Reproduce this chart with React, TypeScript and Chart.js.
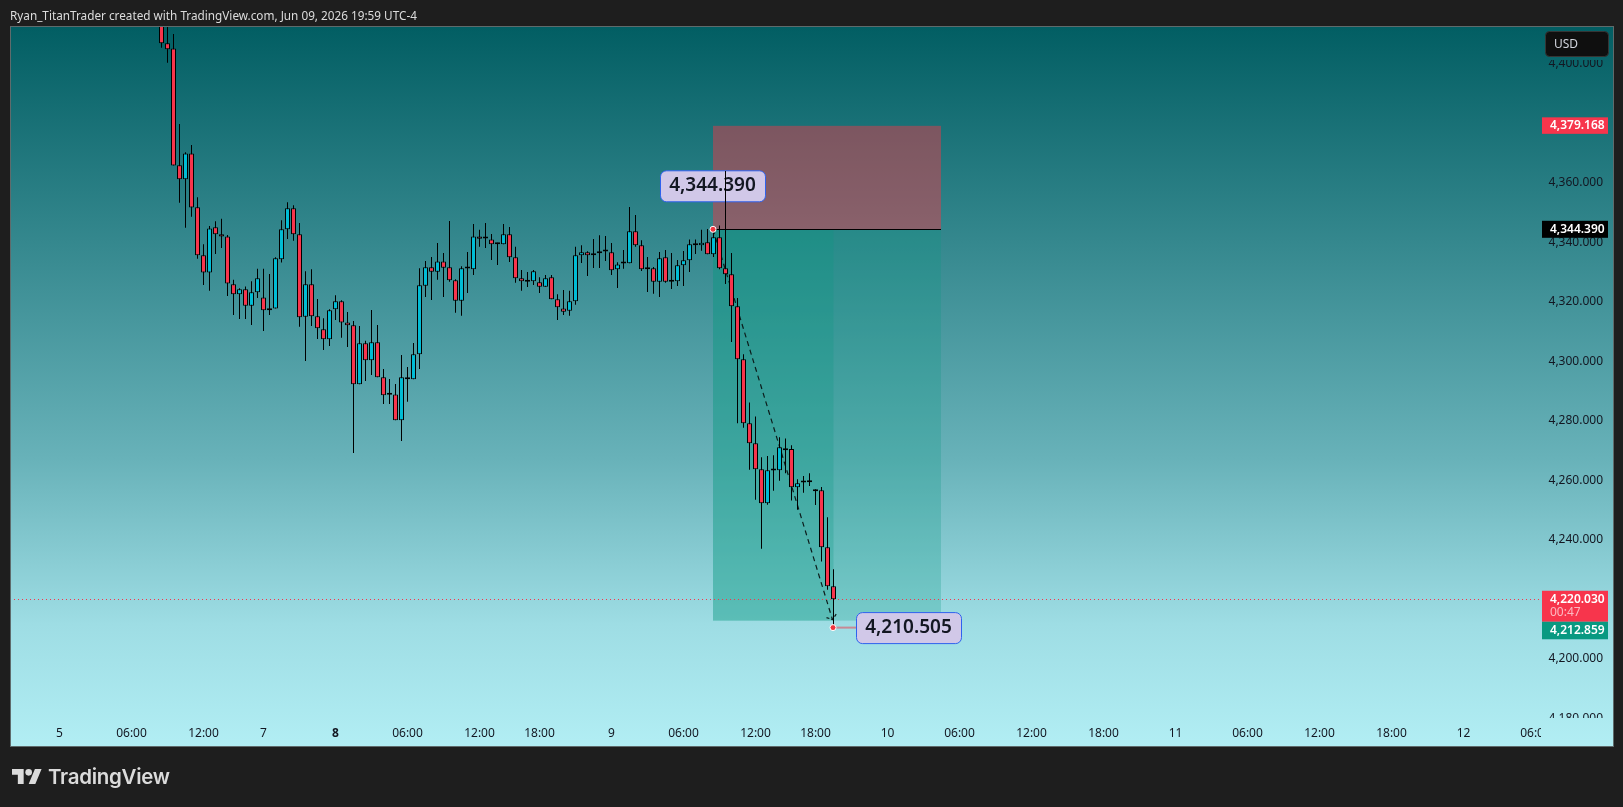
import React, { useEffect, useRef } from "react";
import { Chart, registerables } from "chart.js";

Chart.register(...registerables);

const opens = [4420,4406.9,4405.2,4365.9,4361.2,4369.9,4351.8,4335.7,4329.9,4345.1,4342.7,4342.0,4325.9,4322.6,4324.2,4318.7,4323.2,4321.5,4317.2,4317.8,4334.3,4344.4,4351.5,4342.7,4315.0,4325.9,4315.2,4310.8,4307.4,4317.5,4320.2,4313.1,4312.1,4292.3,4306.1,4300.4,4306.4,4294.7,4288.9,4288.9,4280.2,4294.7,4294.0,4302.4,4325.4,4331.6,4330.1,4333.6,4331.6,4327.3,4320.4,4331.3,4331.0,4342.0,4341.4,4341.0,4339.5,4339.4,4342.7,4335.0,4327.9,4326.9,4326.9,4326.6,4325.1,4328.3,4320.9,4317.8,4317.0,4320.2,4335.7,4336.7,4335.7,4336.3,4337.0,4336.7,4331.0,4333.0,4333.0,4343.7,4339.0,4331.1,4331.3,4326.8,4335.0,4326.9,4326.9,4332.3,4334.0,4339.1,4339.0,4340.0,4336.0,4341.7,4331.3,4329.3,4318.5,4300.7,4279.2,4272.5,4263.7,4252.3,4263.4,4263.4,4270.8,4270.5,4257.7,4259.4,4259.4,4256.4,4256.7,4237.5,4224.4];
const highs = [4425,4416,4410.0,4379.8,4370.3,4372.7,4355.2,4339.4,4345.5,4347.1,4347.9,4342.5,4327.4,4324.6,4325.2,4326.9,4331.1,4331.1,4329.4,4335.0,4347.4,4353.5,4352.5,4346.5,4330.3,4331.0,4321.0,4314.5,4317.5,4322.2,4320.5,4316.6,4313.6,4311.9,4306.9,4317.3,4312.2,4297.4,4294.1,4292.4,4302.1,4298.1,4306.2,4331.3,4333.7,4335.1,4339.8,4336.4,4347.2,4327.6,4332.0,4336.8,4346.2,4344.2,4346.5,4342.8,4339.9,4346.2,4345.2,4338.5,4330.7,4330.0,4330.7,4328.3,4329.0,4329.0,4322.6,4324.0,4323.7,4338.5,4339.0,4337.0,4341.1,4342.4,4342.1,4339.8,4333.3,4337.4,4351.9,4349.2,4340.7,4335.1,4331.7,4336.8,4337.4,4336.4,4334.1,4337.1,4341.0,4341.0,4344.2,4344.5,4344.5,4345.7,4364.0,4336.4,4321.3,4302.4,4286.2,4281.5,4267.8,4268.2,4268.4,4274.5,4274.1,4271.8,4260.4,4261.5,4262.4,4257.0,4257.8,4247.6,4230.1];
const lows = [4405.4,4400.4,4365.8,4353.3,4344.9,4348.6,4334.5,4325.7,4323.7,4336.1,4338.1,4322.0,4315.6,4314.2,4314.2,4312.2,4321.3,4310.2,4315.6,4317.8,4333.2,4341.1,4340.5,4311.6,4300.1,4311.9,4307.5,4303.8,4305.2,4313.9,4307.9,4304.8,4269.2,4292.3,4293.4,4295.4,4294.7,4285.7,4285.7,4280.2,4273.2,4286.4,4294.0,4297.4,4321.6,4320.6,4327.4,4321.6,4326.8,4316.3,4315.3,4323.0,4329.0,4338.5,4338.1,4334.1,4332.4,4339.4,4333.4,4326.4,4323.7,4325.0,4325.7,4323.0,4325.1,4320.9,4313.9,4315.6,4315.3,4319.0,4333.1,4328.7,4331.4,4331.4,4333.7,4329.0,4324.7,4331.1,4333.0,4338.5,4330.4,4323.3,4322.7,4321.6,4326.4,4324.3,4325.3,4325.3,4330.0,4336.1,4337.2,4336.0,4335.1,4331.0,4326.0,4306.5,4279.2,4277.7,4263.6,4253.5,4237.0,4251.8,4256.5,4259.9,4262.4,4253.2,4250.1,4255.8,4258.1,4251.7,4232.7,4223.2,4210.505];
const closes = [4406.9,4404.9,4365.8,4361.2,4369.9,4351.7,4335.7,4329.9,4344.7,4342.7,4342.0,4326.2,4322.6,4324.2,4318.7,4323.2,4327.9,4317.2,4317.8,4334.7,4344.4,4351.5,4342.7,4314.8,4325.9,4315.2,4311.1,4307.4,4317.2,4320.2,4313.1,4312.1,4292.3,4306.1,4300.4,4306.4,4294.7,4288.6,4288.8,4280.2,4294.7,4294.0,4302.4,4325.6,4331.6,4330.1,4333.6,4331.5,4327.3,4320.4,4331.3,4331.2,4342.0,4341.2,4341.3,4339.4,4339.4,4342.7,4335.0,4327.9,4326.9,4326.8,4330.3,4325.1,4327.9,4320.9,4318.2,4316.7,4320.2,4335.7,4336.7,4335.7,4336.3,4337.0,4336.9,4330.6,4332.6,4332.9,4343.7,4339.0,4331.0,4331.0,4326.8,4334.7,4326.8,4326.8,4332.3,4334.0,4339.4,4339.0,4339.9,4336.0,4341.7,4331.3,4329.3,4318.5,4300.7,4279.2,4272.5,4263.7,4252.3,4263.4,4263.3,4271.1,4270.1,4257.7,4259.0,4259.3,4260.0,4256.3,4237.5,4224.4,4220.03];

const xTickIndex = [-17,-5,7,17,29,41,53,63,75,87,99,109,121,133,145,157,169,181,193,205,217,229];
const xTickLabels = ["5","06:00","12:00","7","8","06:00","12:00","18:00","9","06:00","12:00","18:00","10","06:00","12:00","18:00","11","06:00","12:00","18:00","12","06:00"];
const yTickValues = [4180,4200,4220,4240,4260,4280,4300,4320,4340,4360,4380,4400];

const entryIndex = 92;
const endIndex = 112;
const rightIndex = 130;
const entryPrice = 4344.39;
const stopPrice = 4379.168;
const targetPrice = 4212.859;
const lastPrice = 4220.03;
const lowPrice = 4210.505;

const PANEL = { l: 10, t: 27, r: 1613, b: 747 };
const SCALE_LEFT = 1541;
const RED = "#f7354c";
const CYAN = "#00bcd4";
const FONT = '"Noto Sans"';
const fmt = (v: number) =>
  v.toLocaleString("en-US", { minimumFractionDigits: 3, maximumFractionDigits: 3 });

function panelGradient(ctx: CanvasRenderingContext2D) {
  const g = ctx.createLinearGradient(0, PANEL.t, 0, PANEL.b);
  g.addColorStop(0, "#025e63");
  g.addColorStop(0.6, "#68b2b9");
  g.addColorStop(0.83, "#9eddE4");
  g.addColorStop(1, "#b2eef4");
  return g;
}

function roundBox(ctx: CanvasRenderingContext2D, x: number, y: number, w: number, h: number, r: number, fill: string, stroke?: string) {
  ctx.beginPath();
  ctx.roundRect(x, y, w, h, r);
  ctx.fillStyle = fill;
  ctx.fill();
  if (stroke) {
    ctx.strokeStyle = stroke;
    ctx.lineWidth = 1;
    ctx.stroke();
  }
}

function priceTag(ctx: CanvasRenderingContext2D, top: number, bottom: number, fill: string, text: string, cy: number) {
  ctx.fillStyle = fill;
  ctx.fillRect(1542, top, 66, bottom - top);
  ctx.fillStyle = "#ffffff";
  ctx.font = `600 12px ${FONT}`;
  ctx.textAlign = "left";
  ctx.textBaseline = "middle";
  ctx.fillText(text, 1550, cy);
}

function callout(ctx: CanvasRenderingContext2D, x: number, y: number, w: number, h: number, text: string) {
  roundBox(ctx, x + 0.5, y + 0.5, w, h, 6, "#d1c8e8", "#2f62ee");
  ctx.fillStyle = "#131722";
  ctx.font = `600 19px ${FONT}`;
  ctx.textAlign = "center";
  ctx.textBaseline = "middle";
  ctx.fillText(text, x + w / 2, y + h / 2);
}

function marker(ctx: CanvasRenderingContext2D, x: number, y: number) {
  ctx.beginPath();
  ctx.arc(x, y, 3, 0, Math.PI * 2);
  ctx.fillStyle = "#f0363f";
  ctx.fill();
  ctx.strokeStyle = "#ffffff";
  ctx.lineWidth = 1;
  ctx.stroke();
}

const tvPlugin = {
  id: "tvOverlay",
  afterLayout(chart: any) {
    const xs = chart.scales.x;
    xs.top = PANEL.b - 21;
    xs.bottom = PANEL.b;
  },
  beforeDraw(chart: any) {
    const { ctx } = chart;
    ctx.save();
    ctx.fillStyle = panelGradient(ctx);
    ctx.fillRect(PANEL.l, PANEL.t, PANEL.r - PANEL.l, PANEL.b - PANEL.t);
    ctx.restore();
  },
  beforeDatasetsDraw(chart: any) {
    const { ctx, scales } = chart;
    const X = (v: number) => scales.x.getPixelForValue(v);
    const Y = (v: number) => scales.y.getPixelForValue(v);
    const xe = X(entryIndex) - 0.5;
    const xr = X(rightIndex) - 0.5;
    const xn = X(endIndex);
    ctx.save();
    ctx.fillStyle = "rgba(242,54,69,0.46)";
    ctx.fillRect(xe, Y(stopPrice), xr - xe, Y(entryPrice) - Y(stopPrice));
    ctx.fillStyle = "rgba(8,153,129,0.25)";
    ctx.fillRect(xe, Y(entryPrice), xr - xe, Y(targetPrice) - Y(entryPrice));
    ctx.fillRect(xe, Y(entryPrice), xn - xe, Y(targetPrice) - Y(entryPrice));

    ctx.strokeStyle = "#000000";
    ctx.lineWidth = 1;
    ctx.beginPath();
    ctx.moveTo(xe, Math.floor(Y(entryPrice)) + 0.5);
    ctx.lineTo(xr, Math.floor(Y(entryPrice)) + 0.5);
    ctx.stroke();

    // dashed path from the entry to the target, with its arrow head
    const tipX = xn - 1;
    const tipY = Y(targetPrice) - 1;
    ctx.setLineDash([5, 4]);
    ctx.lineWidth = 1.2;
    ctx.strokeStyle = "#0b1c1b";
    ctx.beginPath();
    ctx.moveTo(xe, Y(entryPrice));
    ctx.lineTo(tipX, tipY);
    ctx.stroke();
    ctx.setLineDash([3, 2]);
    ctx.beginPath();
    ctx.moveTo(tipX - 6, tipY - 2);
    ctx.lineTo(tipX, tipY);
    ctx.lineTo(tipX + 4, tipY - 6);
    ctx.stroke();
    ctx.setLineDash([]);

    // dotted last-price line
    ctx.setLineDash([1, 3]);
    ctx.lineWidth = 1;
    ctx.strokeStyle = "#f7354c";
    ctx.beginPath();
    ctx.moveTo(PANEL.l, Math.floor(Y(lastPrice)) + 0.5);
    ctx.lineTo(SCALE_LEFT, Math.floor(Y(lastPrice)) + 0.5);
    ctx.stroke();
    ctx.setLineDash([]);

    // top call-out sits below the candles
    callout(ctx, xe - 53, Y(entryPrice) - 59, 105, 31, fmt(entryPrice));
    ctx.restore();
  },
  afterDatasetsDraw(chart: any) {
    const { ctx, scales } = chart;
    const X = (v: number) => scales.x.getPixelForValue(v);
    const Y = (v: number) => scales.y.getPixelForValue(v);
    ctx.save();
    const mx = X(endIndex);
    const my = Y(lowPrice);
    ctx.strokeStyle = "rgba(242,54,69,0.5)";
    ctx.lineWidth = 2;
    ctx.beginPath();
    ctx.moveTo(mx, my);
    ctx.lineTo(mx + 23, my);
    ctx.stroke();
    callout(ctx, mx + 22.5, my - 15.5, 105, 31, fmt(lowPrice));
    marker(ctx, mx - 0.5, my);
    marker(ctx, X(entryIndex) - 0.5, Y(entryPrice));
    ctx.restore();
  },
  afterDraw(chart: any) {
    const { ctx, scales } = chart;
    const Y = (v: number) => scales.y.getPixelForValue(v);
    ctx.save();
    const g = panelGradient(ctx);
    ctx.fillStyle = g;
    ctx.fillRect(SCALE_LEFT, 718, PANEL.r - SCALE_LEFT, PANEL.b - 718);
    ctx.fillRect(SCALE_LEFT, PANEL.t, PANEL.r - SCALE_LEFT, 60 - PANEL.t);

    roundBox(ctx, 1545.5, 31.5, 63, 25, 4, "#0f0f0f", "#353535");
    ctx.fillStyle = "#d1d4dc";
    ctx.font = `400 12px ${FONT}`;
    ctx.textAlign = "left";
    ctx.textBaseline = "middle";
    ctx.fillText("USD", 1554, 44.5);

    const sy = Y(stopPrice);
    priceTag(ctx, sy - 8.5, sy + 8, "#f7354c", fmt(stopPrice), sy);
    const ey = Y(entryPrice);
    priceTag(ctx, ey - 8.5, ey + 8.5, "#000000", fmt(entryPrice), ey);

    const ly = Y(lastPrice);
    priceTag(ctx, ly - 8.5, ly + 22.5, "#f7354c", fmt(lastPrice), ly);
    ctx.fillStyle = "rgba(255,255,255,0.65)";
    ctx.font = `400 12px ${FONT}`;
    ctx.fillText("00:47", 1550, ly + 13.5);
    priceTag(ctx, ly + 22.5, ly + 40, "#089981", fmt(targetPrice), ly + 31);

    ctx.strokeStyle = "#5f6b6c";
    ctx.lineWidth = 1;
    ctx.strokeRect(PANEL.l + 0.5, PANEL.t - 0.5, PANEL.r - PANEL.l, PANEL.b - PANEL.t);
    ctx.restore();
  },
};

export default function App() {
  const ref = useRef<HTMLCanvasElement | null>(null);

  useEffect(() => {
    const canvas = ref.current;
    if (!canvas) return;
    const wicks = opens.map((_, i) => ({ x: i, y: [lows[i], highs[i]] }));
    const bodies = opens.map((o, i) => ({
      x: i,
      y: [Math.min(o, closes[i]), Math.max(o, closes[i])],
    }));
    const bodyColors = opens.map((o, i) => (closes[i] < o ? RED : CYAN));
    const chart = new Chart(canvas, {
      type: "bar",
      data: {
        datasets: [
          {
            label: "wick",
            data: wicks as any,
            backgroundColor: "#000000",
            barThickness: 1,
            inflateAmount: 0,
            grouped: false,
            order: 2,
          } as any,
          {
            label: "body",
            data: bodies as any,
            backgroundColor: bodyColors,
            borderColor: "#000000",
            borderWidth: 1,
            borderSkipped: false,
            barThickness: 5,
            inflateAmount: 0,
            minBarLength: 2,
            grouped: false,
            order: 1,
          } as any,
        ],
      },
      options: {
        responsive: false,
        animation: false,
        devicePixelRatio: 1,
        events: [],
        layout: { padding: { left: PANEL.l, top: PANEL.t, right: 1623 - PANEL.r, bottom: 807 - PANEL.b } },
        plugins: { legend: { display: false }, tooltip: { enabled: false }, title: { display: false } },
        scales: {
          x: {
            type: "linear",
            offset: false,
            position: "bottom",
            min: (PANEL.l - 161.5) / 6,
            max: (PANEL.r - 161.5) / 6,
            grid: { display: false, drawTicks: false },
            border: { display: false },
            afterBuildTicks: (s: any) => {
              s.ticks = xTickIndex.map((value) => ({ value }));
            },
            afterFit: (s: any) => {
              s.height = 0;
            },
            ticks: {
              autoSkip: false,
              maxRotation: 0,
              padding: 0,
              color: "#131722",
              font: (c: any) => ({
                family: FONT,
                size: 12,
                weight: c.tick && c.tick.value === 29 ? "700" : "400",
              }),
              callback: (v: any) => xTickLabels[xTickIndex.indexOf(Number(v))] ?? "",
            },
          },
          y: {
            type: "linear",
            position: "right",
            min: entryPrice - (PANEL.b - 229.3) / 2.975,
            max: entryPrice + (229.3 - PANEL.t) / 2.975,
            grid: { display: false, drawTicks: false },
            border: { display: false },
            afterBuildTicks: (s: any) => {
              s.ticks = yTickValues.map((value) => ({ value }));
            },
            afterFit: (s: any) => {
              s.width = 0;
            },
            ticks: {
              mirror: true,
              padding: -10,
              color: "#131722",
              font: { family: FONT, size: 12 },
              callback: (v: any) => fmt(Number(v)),
            },
          },
        },
      },
      plugins: [tvPlugin],
    } as any);
    return () => chart.destroy();
  }, []);

  return (
    <div style={{ position: "fixed", left: 0, top: 0, width: 1623, height: 807, background: "#1e1e1e", overflow: "hidden" }}>
      <canvas ref={ref} width={1623} height={807} style={{ position: "absolute", left: 0, top: 0, display: "block" }} />
      <div style={{ position: "absolute", left: 10, top: 6, font: `400 11.75px ${FONT}`, lineHeight: "18px", color: "#dcdcdc", whiteSpace: "nowrap" }}>
        Ryan_TitanTrader created with TradingView.com, Jun 09, 2026 19:59 UTC-4
      </div>
      <svg style={{ position: "absolute", left: 12, top: 769 }} width={30} height={15} viewBox="0 4 36 18">
        <path fill="#dbdbdb" d="M14 22H7V11H0V4h14v18zM28 22h-8l7.5-18h8L28 22z" />
        <circle fill="#dbdbdb" cx="20" cy="8" r="4" />
      </svg>
      <div style={{ position: "absolute", left: 48, top: 763, font: `600 20.5px Inter`, lineHeight: "28px", letterSpacing: "-0.3px", color: "#dbdbdb", whiteSpace: "nowrap" }}>
        TradingView
      </div>
    </div>
  );
}
